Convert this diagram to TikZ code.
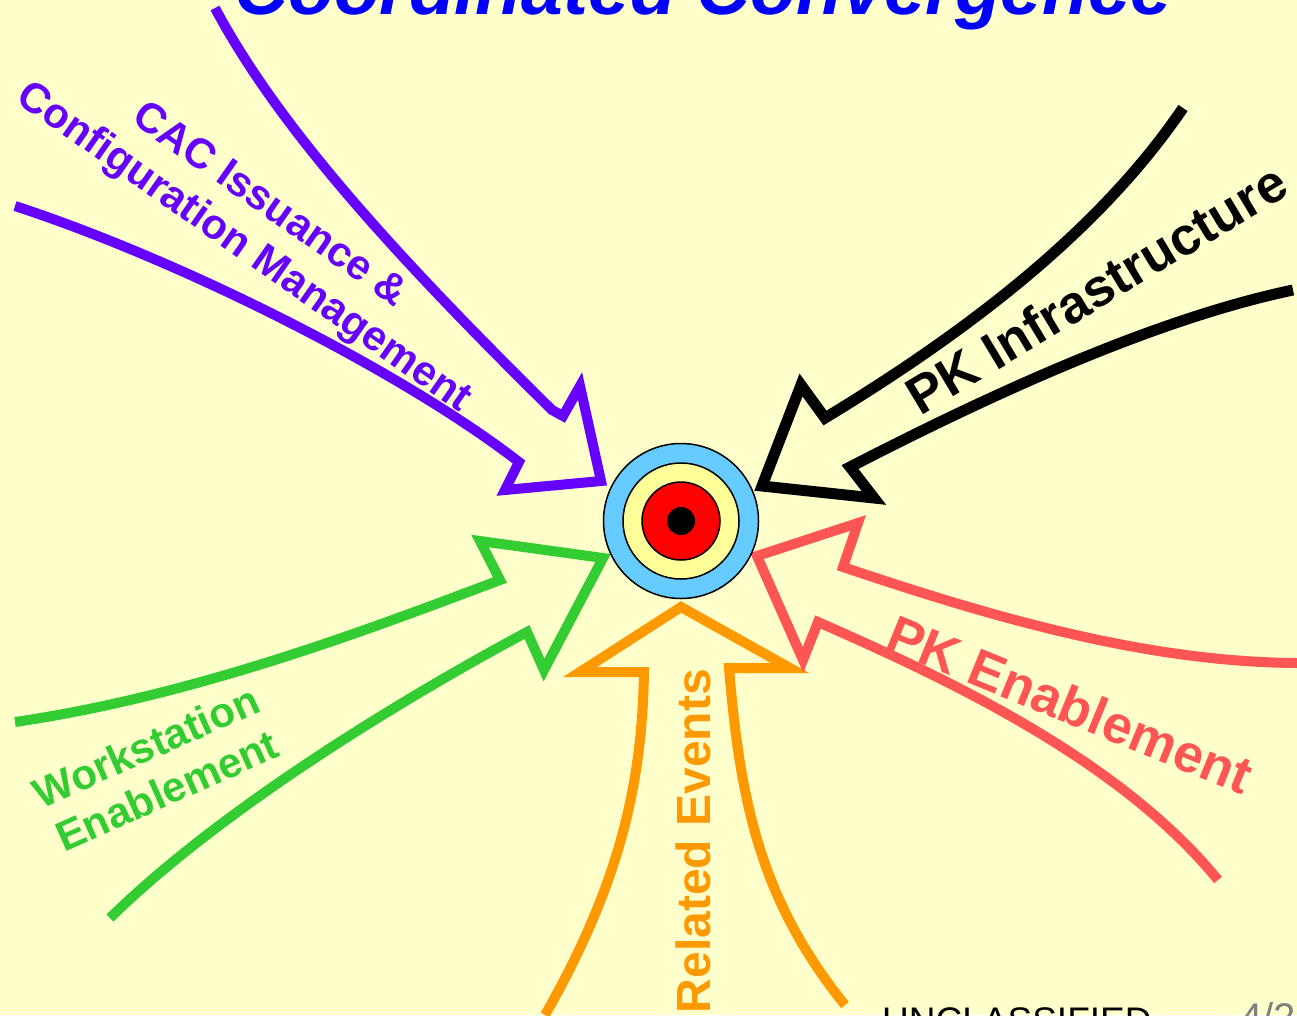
\documentclass[tikz,border=0pt]{standalone}
\usepackage{fontspec}
\setmainfont{Liberation Sans}
\definecolor{bgyellow}{HTML}{FFFFCC}
\definecolor{cpurple}{HTML}{6600FF}
\definecolor{cgreen}{HTML}{33CC33}
\definecolor{corange}{HTML}{FF9900}
\definecolor{cred}{HTML}{FF5555}
\definecolor{ctitle}{HTML}{0000FF}
\definecolor{ringblue}{HTML}{66CCFF}
\definecolor{ringyellow}{HTML}{FFFF99}
\definecolor{ringred}{HTML}{FF0000}
\begin{document}
\begin{tikzpicture}[x=1pt,y=-1pt,
  arr/.style={line width=10pt, line join=miter, miter limit=10},
  lbl/.style={font=\bfseries\fontsize{#1}{#1}\selectfont, anchor=base, inner sep=0pt},
  ring/.style={draw=black, line width=1.5pt}]
\useasboundingbox (0,0) rectangle (1297,1015);
\fill[bgyellow] (0,0) rectangle (1297,1015);

% title
\node[font=\bfseries\itshape\fontsize{75}{80}\selectfont, text=ctitle, anchor=base, inner sep=0pt] (title) at (703,14) {Coordinated Convergence};

% purple arrow
\draw[arr, cpurple] (215,8) .. controls (280,130) and (400,260) .. (552,410)
  -- (563,416) -- (580,386) -- (601,481) -- (505,490) -- (519,462)
  .. controls (400,370) and (180,260) .. (15,206);

% black arrow
\draw[arr, line width=11pt, black] (1183,108) .. controls (1100,230) and (970,330) .. (825,418)
  -- (801,385) -- (762,486) -- (874,498) -- (850,467)
  .. controls (980,400) and (1150,320) .. (1293,290);

% green arrow
\draw[arr, cgreen] (15,722) .. controls (200,695) and (380,625) .. (500,580)
  -- (480,541) -- (603,558) -- (544,670) -- (527,632)
  .. controls (400,700) and (220,810) .. (110,918);

% orange arrow
\draw[arr, corange] (545,1015) .. controls (622,880) and (642,780) .. (644,672)
  -- (580,672) -- (681,607) -- (790,668) -- (729,668)
  .. controls (740,800) and (760,900) .. (845,1005);

% red arrow
\draw[arr, cred] (1297,663) .. controls (1150,662) and (1000,620) .. (843,567)
  -- (858,523) -- (757,556) -- (803,660) -- (818,622)
  .. controls (950,680) and (1120,760) .. (1218,880);

% target
\node[ring, circle, fill=ringblue, minimum size=155pt, inner sep=0pt] (target) at (681,521) {};
\node[ring, circle, fill=ringyellow, minimum size=116pt, inner sep=0pt] (ringb) at (target.center) {};
\node[ring, circle, fill=ringred, minimum size=78pt, inner sep=0pt] (ringc) at (target.center) {};
\node[circle, fill=black, minimum size=28pt, inner sep=0pt] (bull) at (target.center) {};

% labels
\node[lbl=42, text=cpurple, rotate=-35] (cac) at (263,215) {CAC Issuance \&};
\node[lbl=42, text=cpurple, rotate=-35] (cfg) at (237,257) {Configuration Management};
\node[lbl=53, text=black, rotate=31] (pki) at (1106,305) {PK Infrastructure};
\node[lbl=53, text=cred, rotate=-22.2] (pke) at (1063,722) {PK Enablement};
\node[lbl=48, text=corange, rotate=90] (rel) at (710,841) {Related Events};
\node[lbl=42, text=cgreen, rotate=24] (ws) at (152,760) {Workstation};
\node[lbl=42, text=cgreen, rotate=24] (wse) at (173,804) {Enablement};

% footer
\node[font=\fontsize{37}{40}\selectfont, text=black, anchor=base west, inner sep=0pt] (uncl) at (882,1033) {UNCLASSIFIED};
\node[font=\fontsize{40}{44}\selectfont, text=gray, anchor=base west, inner sep=0pt] (page) at (1240,1031) {4/2};
\end{tikzpicture}
\end{document}
